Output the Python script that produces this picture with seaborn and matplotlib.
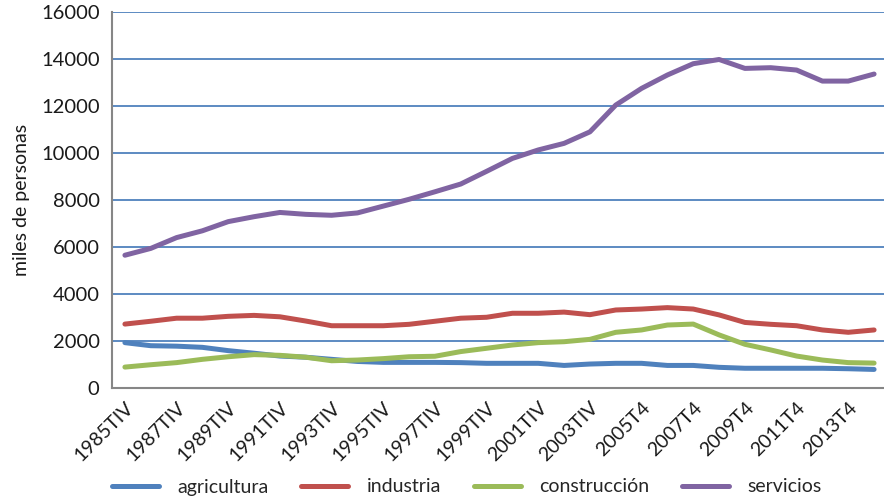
import matplotlib
matplotlib.use('Agg')
import matplotlib.pyplot as plt
import numpy as np
import pandas as pd
import seaborn as sns

# ocupados por sector, miles de personas (cuarto trimestre de cada año)
years = list(range(1985, 2015))
agricultura = [1930, 1800, 1780, 1730, 1590, 1480, 1360, 1310, 1220, 1130,
               1090, 1090, 1090, 1080, 1050, 1050, 1050, 960, 1020, 1050,
               1050, 960, 960, 880, 840, 840, 840, 840, 820, 790]
industria = [2720, 2840, 2970, 2970, 3050, 3090, 3030, 2850, 2650, 2650,
             2650, 2710, 2840, 2970, 3010, 3180, 3180, 3230, 3120, 3320,
             3360, 3420, 3360, 3110, 2790, 2710, 2650, 2470, 2370, 2470]
construccion = [890, 990, 1080, 1220, 1330, 1420, 1390, 1310, 1160, 1190,
                1250, 1330, 1350, 1550, 1690, 1830, 1930, 1970, 2070, 2370,
                2470, 2680, 2720, 2260, 1860, 1620, 1360, 1190, 1080, 1060]
servicios = [5650, 5940, 6400, 6690, 7080, 7290, 7470, 7390, 7350, 7450,
             7740, 8030, 8350, 8680, 9220, 9770, 10130, 10410, 10900, 12040,
             12750, 13320, 13800, 13980, 13600, 13630, 13530, 13060, 13060, 13360]

labels = [str(y) + ('TIV' if y < 2005 else 'T4') for y in years]
sectores = ['agricultura', 'industria', 'construcción', 'servicios']
colores = ['#4F81BD', '#C0504D', '#9BBB59', '#8064A2']

df = pd.DataFrame({'pos': list(range(len(years))) * 4,
                   'sector': np.repeat(sectores, len(years)),
                   'valor': agricultura + industria + construccion + servicios})

sns.set_style('white')
plt.rcParams['font.family'] = ['Lato', 'DejaVu Sans']

fig = plt.figure(figsize=(8.84, 5), dpi=100)
ax = fig.add_axes([112 / 884, 1 - 388 / 500, 775 / 884, 376 / 500])

sns.lineplot(data=df, x='pos', y='valor', hue='sector', palette=colores,
             linewidth=3.6, ax=ax, legend=True)

ax.set_xlim(-0.5, len(years) - 0.5)
ax.set_ylim(0, 16000)
ax.set_yticks(np.arange(0, 16001, 2000))
ax.yaxis.grid(True, color='#4F81BD', linewidth=1.3)
ax.set_axisbelow(True)

ax.set_xticks(range(0, len(years), 2))
ax.set_xticklabels(labels[::2], rotation=45, ha='right', rotation_mode='anchor')
ax.set_xticks(np.arange(-0.5, len(years), 1), minor=True)
ax.tick_params(axis='x', which='major', length=0, pad=8, labelsize=14, colors='#1a1a1a')
ax.tick_params(axis='x', which='minor', length=5, width=1.2, color='#868686', direction='out')
ax.tick_params(axis='y', length=5, width=1.2, color='#868686', labelsize=14.5,
               labelcolor='#1a1a1a', direction='out', pad=4)

for s in ['top', 'right']:
    ax.spines[s].set_visible(False)
for s in ['left', 'bottom']:
    ax.spines[s].set_color('#868686')
    ax.spines[s].set_linewidth(1.5)

ax.set_xlabel('')
ax.set_ylabel('miles de personas', fontsize=14, color='#1a1a1a', labelpad=8)

handles, _ = ax.get_legend_handles_labels()
ax.get_legend().remove()
fig.legend(handles, sectores, loc='center', bbox_to_anchor=(0.528, 0.026), ncol=4,
           frameon=False, fontsize=14, handlelength=2.4, columnspacing=1.7,
           handletextpad=0.95)

fig.savefig('out.png', dpi=100)
